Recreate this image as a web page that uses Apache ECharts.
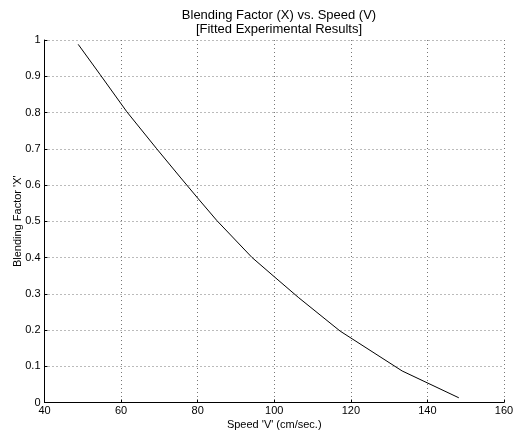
<!DOCTYPE html>
<html>
<head>
<meta charset="utf-8">
<script src="https://cdn.jsdelivr.net/npm/echarts@6/dist/echarts.min.js"></script>
<style>
html,body{margin:0;padding:0;background:#fff;}
#chart{width:513px;height:433px;}
</style>
</head>
<body>
<div id="chart"></div>
<script>
var speedV = [48.8, 54.5, 61.5, 69.3, 75.4, 80, 85, 94.2, 100, 106.4, 117.2, 133.4, 148.2];
var blendX = [0.988, 0.905, 0.802, 0.70, 0.622, 0.564, 0.502, 0.40, 0.347, 0.289, 0.197, 0.087, 0.013];
var xTicks = [40, 60, 80, 100, 120, 140, 160];
var yTicks = [0, 0.1, 0.2, 0.3, 0.4, 0.5, 0.6, 0.7, 0.8, 0.9, 1];

var pts = speedV.map(function(v, i){ return [v, blendX[i]]; });
var font = 'Liberation Sans, Arial, Helvetica, sans-serif';
var chart = echarts.init(document.getElementById('chart'), null, {renderer:'canvas'});
var gridLine = {show:true, lineStyle:{color:'#777', type:[1,3], width:1}};
chart.setOption({
  animation:false,
  backgroundColor:'#fff',
  title:{
    text:'Blending Factor (X) vs. Speed (V)\n[Fitted Experimental Results]',
    left:274, top:3, textAlign:'center',
    textStyle:{fontFamily:font, fontSize:13, fontWeight:'normal', color:'#000', lineHeight:14}
  },
  grid:{left:44.5, right:9, top:40, bottom:30.5, containLabel:false, outerBoundsMode:'none'},
  xAxis:{
    type:'value', min:xTicks[0], max:xTicks[xTicks.length-1], interval:20,
    name:"Speed 'V' (cm/sec.)", nameLocation:'middle', nameGap:16.5, nameMoveOverlap:false,
    nameTextStyle:{fontFamily:font, fontSize:11, color:'#000'},
    axisLine:{show:true, onZero:false, lineStyle:{color:'#000', width:1}},
    axisTick:{show:true, inside:true, length:3, lineStyle:{color:'#000'}},
    axisLabel:{fontFamily:font, fontSize:11, color:'#000', margin:3},
    splitLine:gridLine
  },
  yAxis:{
    type:'value', min:yTicks[0], max:yTicks[yTicks.length-1], interval:0.1,
    name:"Blending Factor 'X'", nameLocation:'middle', nameGap:21, nameMoveOverlap:false,
    nameTextStyle:{fontFamily:font, fontSize:11, color:'#000'},
    axisLine:{show:true, onZero:false, lineStyle:{color:'#000', width:1}},
    axisTick:{show:true, inside:true, length:3, lineStyle:{color:'#000'}},
    axisLabel:{fontFamily:font, fontSize:11, color:'#000', margin:4},
    splitLine:gridLine
  },
  series:[{
    type:'line', data:pts, showSymbol:false, smooth:false,
    lineStyle:{color:'#000', width:1}
  }]
});
</script>
</body>
</html>
